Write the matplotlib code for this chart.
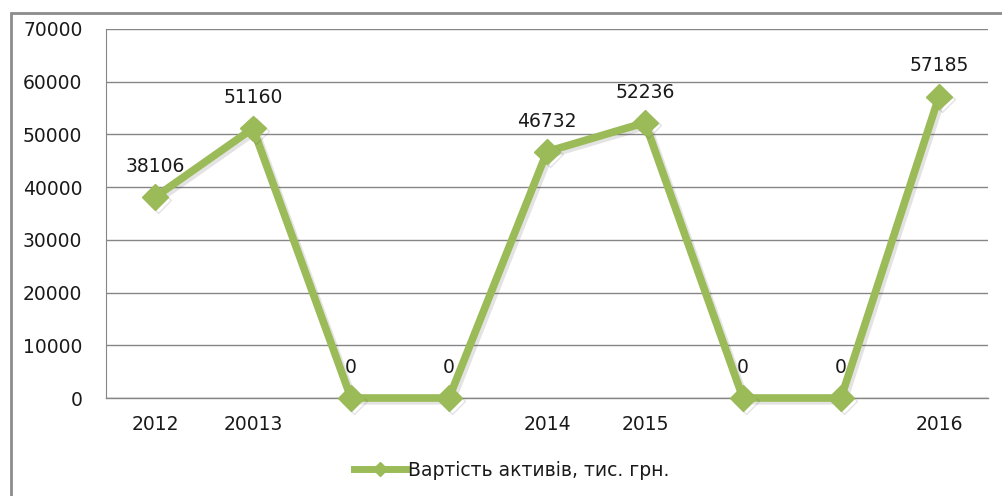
import matplotlib.pyplot as plt
import matplotlib.patheffects as pe
from matplotlib.patches import Rectangle
from matplotlib.lines import Line2D
import numpy as np

categories = ["2012", "20013", "", "", "2014", "2015", "", "", "2016"]
values = [38106, 51160, 0, 0, 46732, 52236, 0, 0, 57185]
series_name = "Вартість активів, тис. грн."

green = "#9BBB59"
grid_gray = "#868686"
text_col = "#1a1a1a"

plt.rcParams['font.family'] = ['DejaVu Sans']

W, H = 1002, 496
fig = plt.figure(figsize=(W / 100, H / 100), dpi=100)

# outer chart frame (partly cut off on the right and bottom)
fig.patches.append(Rectangle((11 / W, -0.05), 1.1, (H - 13) / H + 0.05,
                             transform=fig.transFigure, fill=False,
                             edgecolor="#8c8c8c", linewidth=2, zorder=0))

ax = fig.add_axes([106 / W, 1 - 398 / H, (988 - 106) / W, (398 - 29) / H])

x = np.arange(len(values))
shadow = [pe.SimpleLineShadow(offset=(2, -2), alpha=0.15, shadow_color="#444444"), pe.Normal()]
ax.plot(x, values, color=green, linewidth=5.5, marker="D", markersize=13,
        markerfacecolor=green, markeredgecolor=green,
        solid_joinstyle="miter", path_effects=shadow, zorder=3, clip_on=False)

for xi, v in zip(x, values):
    ax.annotate(str(v), (xi, v), xytext=(0, 22), textcoords="offset points",
                ha="center", va="center", fontsize=13.5, color=text_col)

ax.set_xlim(-0.5, len(values) - 0.5)
ax.set_ylim(0, 70000)
ax.set_yticks(np.arange(0, 70001, 10000))
ax.set_xticks(x)
ax.set_xticklabels(categories)
ax.tick_params(axis="both", length=0, labelsize=13.5, colors=text_col)
ax.tick_params(axis="y", pad=17)
ax.tick_params(axis="x", pad=12)

ax.yaxis.grid(True, color=grid_gray, linewidth=1)
ax.axhline(0, color=grid_gray, linewidth=1, zorder=1, clip_on=False)
ax.set_axisbelow(True)
for s in ["top", "right", "bottom"]:
    ax.spines[s].set_visible(False)
ax.spines["left"].set_color(grid_gray)

handle = Line2D([], [], color=green, linewidth=5, marker="D", markersize=7,
                markerfacecolor=green, markeredgecolor=green)
leg = fig.legend(handles=[handle], labels=[series_name], loc="center",
                 bbox_to_anchor=(512 / W, 1 - 470 / H),
                 frameon=False, fontsize=13.5, handlelength=2.8, handletextpad=0.1)
for t in leg.get_texts():
    t.set_color(text_col)

fig.savefig("out.png", dpi=100)
